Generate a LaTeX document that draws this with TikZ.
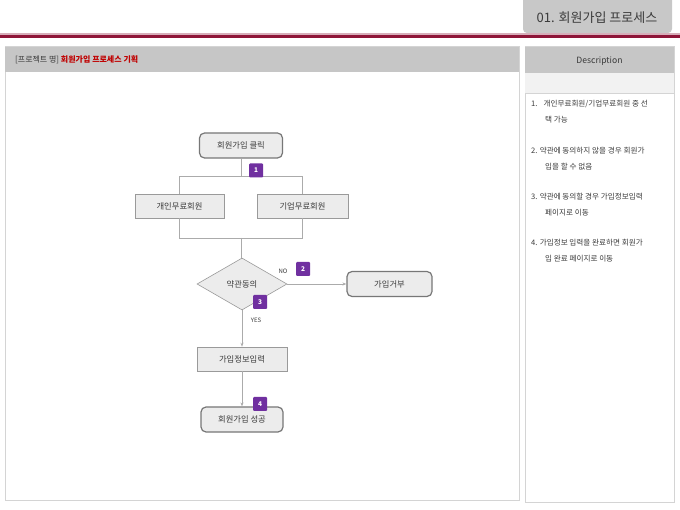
\documentclass[tikz,border=0pt]{standalone}
\usepackage{fontspec}
\setmainfont{Noto Sans CJK KR}
\usetikzlibrary{arrows.meta,shapes.geometric}
\definecolor{tabgray}{HTML}{C8C8C8}
\definecolor{hdrgray}{HTML}{C6C6C6}
\definecolor{panelline}{HTML}{D4D4D4}
\definecolor{maroon}{HTML}{8E1538}
\definecolor{boxfill}{HTML}{ECECEC}
\definecolor{boxline}{HTML}{9A9A9A}
\definecolor{rbline}{HTML}{777777}
\definecolor{conn}{HTML}{ABABAB}
\definecolor{badge}{HTML}{7030A0}
\definecolor{txt}{HTML}{3A3A3A}
\definecolor{redtxt}{HTML}{C00000}
\tikzset{
  rbox/.style={draw=rbline, line width=1.2pt, fill=boxfill, rounded corners=5pt,
    minimum width=83pt, minimum height=25pt, inner sep=0pt, font=\fontsize{8.3}{9}\selectfont, text=txt},
  sbox/.style={draw=boxline, line width=0.6pt, fill=boxfill,
    minimum width=90pt, minimum height=24pt, inner sep=0pt, font=\fontsize{8.3}{9}\selectfont, text=txt},
  dbox/.style={draw=boxline, line width=0.6pt, fill=boxfill, diamond, aspect=1.73,
    minimum width=90pt, minimum height=52pt, inner sep=0pt, font=\fontsize{8.3}{9}\selectfont, text=txt},
  badgebox/.style={fill=badge, rounded corners=1pt, minimum size=14pt, inner sep=0pt,
    text=white, font=\fontsize{6.5}{7}\selectfont\bfseries},
  conline/.style={draw=conn, line width=0.7pt},
  arr/.style={conline, -{Stealth[length=4pt,width=3pt]}},
  lbl/.style={font=\fontsize{6}{6}\selectfont, text=txt, inner sep=0pt},
  desc/.style={font=\fontsize{7.6}{8}\selectfont, text=txt, anchor=west, inner sep=0pt},
}
\begin{document}
\begin{tikzpicture}[x=1pt,y=-1pt]
\useasboundingbox (0,0) rectangle (680,510);
\fill[white] (0,0) rectangle (680,510);
% top tab
\fill[tabgray, rounded corners=4pt] (523,-6) rectangle (672,33);
\node[font=\fontsize{13}{14}\selectfont, text=txt] (tabtext) at (597,18) {01. 회원가입 프로세스};
% red line
\fill[maroon!35] (0,33.5) rectangle (680,35);
\fill[maroon] (0,35) rectangle (680,38);
% left panel
\draw[panelline, line width=1pt, fill=white] (5,47) rectangle (519,500);
\fill[hdrgray] (5,47) rectangle (519,72);
\node[anchor=west, inner sep=0pt, font=\fontsize{8}{9}\selectfont] (ptitle) at (15,60)
  {\textcolor{txt}{[프로젝트 명]} \textcolor{redtxt}{\bfseries 회원가입 프로세스 기획}};
% right panel
\draw[panelline, line width=1pt, fill=white] (525,47) rectangle (674,502);
\fill[hdrgray] (525,47) rectangle (674,73);
\fill[boxfill!70!white] (525,73) rectangle (674,93);
\draw[panelline, line width=0.8pt] (525,93) -- (674,93);
\node[font=\fontsize{8.6}{9}\selectfont, text=txt] (dtitle) at (599.5,61) {Description};
% description items
\node[desc] (d1a) at (531,104) {1.\hspace{6pt}개인무료회원/기업무료회원 중 선};
\node[desc] (d1b) at (545,120) {택 가능};
\node[desc] (d2a) at (531,151) {2. 약관에 동의하지 않을 경우 회원가};
\node[desc] (d2b) at (545,167) {입을 할 수 없음};
\node[desc] (d3a) at (531,197) {3. 약관에 동의할 경우 가입정보입력};
\node[desc] (d3b) at (545,213) {페이지로 이동};
\node[desc] (d4a) at (531,243) {4. 가입정보 입력을 완료하면 회원가};
\node[desc] (d4b) at (545,259) {입 완료 페이지로 이동};
% flowchart nodes
\node[rbox] (click) at (241,145.5) {회원가입 클릭};
\node[sbox, minimum width=89pt] (personal) at (179.5,206) {개인무료회원};
\node[sbox, minimum width=91pt] (company) at (302.5,206) {기업무료회원};
\node[dbox] (agree) at (242,284) {약관동의};
\node[rbox, minimum width=85pt] (reject) at (389.5,284) {가입거부};
\node[sbox] (info) at (242,359) {가입정보입력};
\node[rbox, minimum width=82pt] (success) at (242,419.5) {회원가입 성공};
% connectors
\coordinate (split) at (241,176);
\coordinate (merge) at (241,238);
\draw[conline] (click.south) -- (split);
\draw[conline] (split) -| (personal.north);
\draw[conline] (split) -| (company.north);
\draw[conline] (personal.south) |- (merge);
\draw[conline] (company.south) |- (merge);
\draw[conline] (merge) -- (agree.north -| merge);
\draw[arr] (agree.east) -- (reject.west);
\draw[arr] (agree.south) -- (info.north);
\draw[arr] (info.south) -- (success.north);
% labels
\node[lbl] (nolbl) at (283,271) {NO};
\node[lbl] (yeslbl) at (256,320) {YES};
% badges
\node[badgebox] (b1) at (256,170.5) {1};
\node[badgebox] (b2) at (303,269) {2};
\node[badgebox] (b3) at (260,302) {3};
\node[badgebox] (b4) at (260,404) {4};
\end{tikzpicture}
\end{document}
